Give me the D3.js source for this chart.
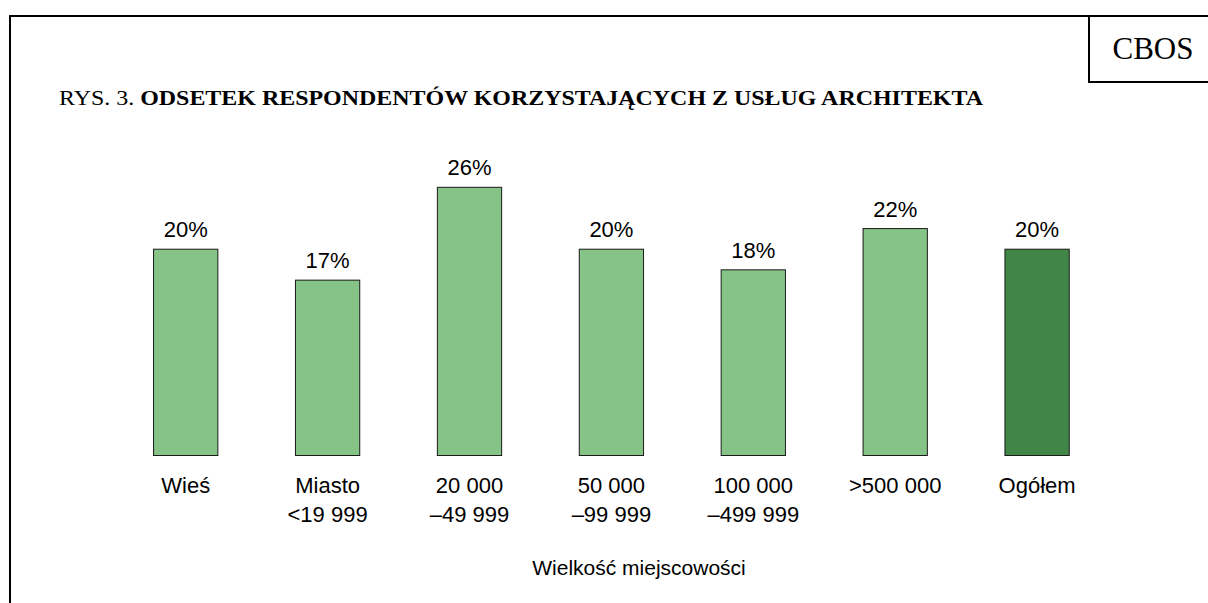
<!DOCTYPE html>
<html><head><meta charset="utf-8">
<script src="https://cdn.jsdelivr.net/npm/d3@7/dist/d3.min.js"></script>
<style>body{margin:0;background:#fff}svg{display:block}</style>
</head><body>
<svg id="c" width="1208" height="603"></svg>
<script>
const categories = ["Wieś", "Miasto\n<19 999", "20 000\n–49 999", "50 000\n–99 999", "100 000\n–499 999", ">500 000", "Ogółem"];
const values = [20, 17, 26, 20, 18, 22, 20];
const highlight = [false, false, false, false, false, false, true];
const titleLead = "RYS. 3. ";
const titleBold = "ODSETEK RESPONDENTÓW KORZYSTAJĄCYCH Z USŁUG ARCHITEKTA";
const axisTitle = "Wielkość miejscowości";
const brand = "CBOS";

const svg = d3.select("#c");
const sans = "Liberation Sans, Arial, sans-serif";
const serif = "Liberation Serif, Times New Roman, serif";

// frame
svg.append("path").attr("d", "M10,603 L10,16 L1208,16").attr("fill", "none").attr("stroke", "#000").attr("stroke-width", 2);
svg.append("path").attr("d", "M1089,16 L1089,82 L1208,82").attr("fill", "none").attr("stroke", "#000").attr("stroke-width", 2);
svg.append("text").attr("x", 1153).attr("y", 59).attr("text-anchor", "middle")
  .attr("font-family", serif).attr("font-size", 31).text(brand);

const t = svg.append("text").attr("x", 59).attr("y", 105).attr("font-family", serif).attr("font-size", 21)
  .attr("textLength", 924).attr("lengthAdjust", "spacingAndGlyphs");
t.append("tspan").text(titleLead);
t.append("tspan").attr("font-weight", "bold").text(titleBold);

const x = d3.scaleBand().domain(categories).range([114.75, 1108.05]).paddingInner(0.547).paddingOuter(0.2735);
const y = d3.scaleLinear().domain([0, 30]).range([455.5, 455.5 - 30 * 10.315]);

const data = categories.map((c, i) => ({c, v: values[i], h: highlight[i]}));

svg.selectAll("rect.bar").data(data).enter().append("rect")
  .attr("class", "bar")
  .attr("x", d => x(d.c)).attr("width", x.bandwidth())
  .attr("y", d => y(d.v)).attr("height", d => y(0) - y(d.v))
  .attr("fill", d => d.h ? "#428647" : "#86c387")
  .attr("stroke", "#1a1a1a").attr("stroke-width", 1);

svg.selectAll("text.val").data(data).enter().append("text")
  .attr("class", "val")
  .attr("x", d => x(d.c) + x.bandwidth() / 2).attr("y", d => y(d.v) - 12)
  .attr("text-anchor", "middle").attr("font-family", sans).attr("font-size", 22)
  .text(d => d.v + "%");

const cat = svg.selectAll("text.cat").data(data).enter().append("text")
  .attr("class", "cat")
  .attr("x", d => x(d.c) + x.bandwidth() / 2).attr("y", 493)
  .attr("text-anchor", "middle").attr("font-family", sans).attr("font-size", 22);
cat.each(function(d) {
  const lines = d.c.split("\n");
  const el = d3.select(this);
  lines.forEach((l, i) => {
    el.append("tspan").attr("x", x(d.c) + x.bandwidth() / 2).attr("dy", i === 0 ? 0 : 28.7).text(l);
  });
});

svg.append("text").attr("x", 639).attr("y", 575).attr("text-anchor", "middle")
  .attr("font-family", sans).attr("font-size", 21).text(axisTitle);
</script>
</body></html>
